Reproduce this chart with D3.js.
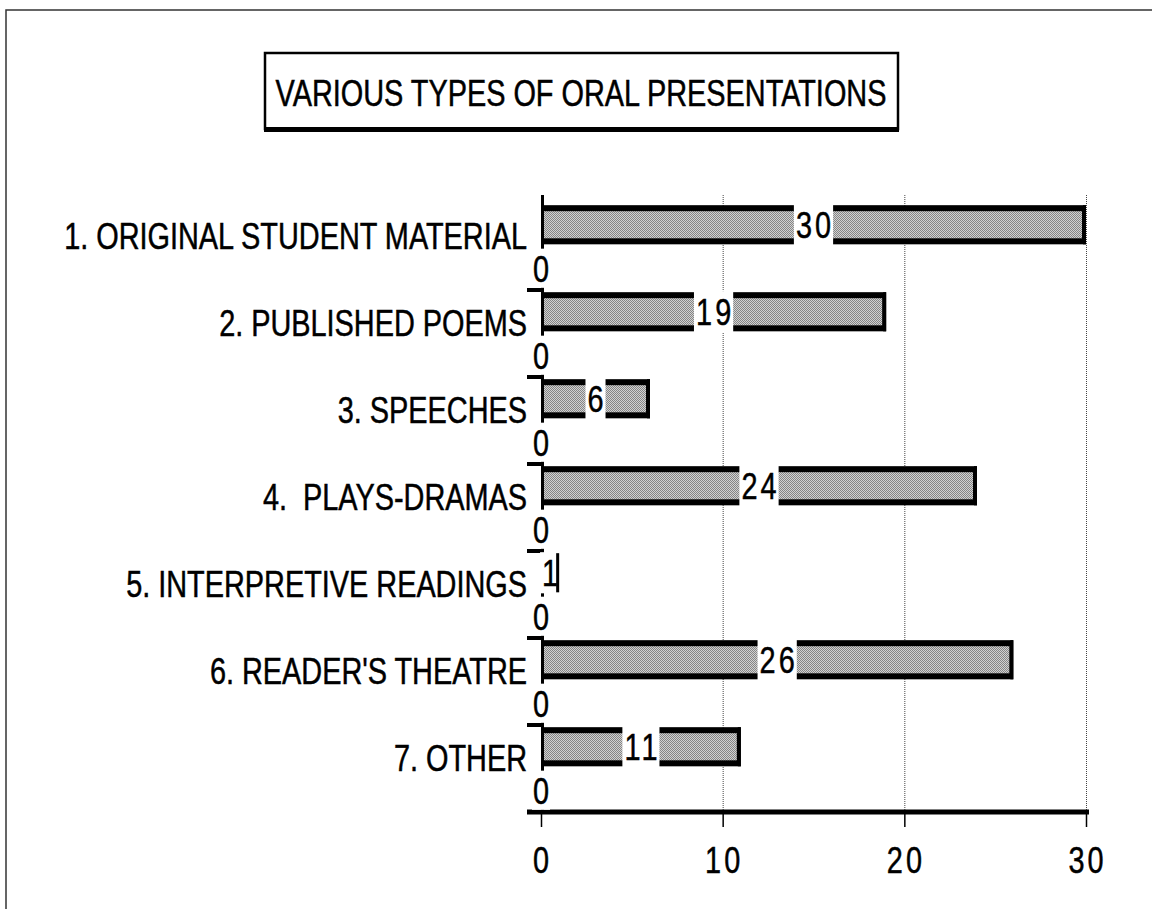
<!DOCTYPE html>
<html>
<head>
<meta charset="utf-8">
<script src="https://cdn.jsdelivr.net/npm/d3@7"></script>
<style>
  html, body { margin: 0; padding: 0; background: #fff; }
  text { white-space: pre; }
</style>
</head>
<body>
<div id="chart"></div>
<script>
// data
const categories = ["1. ORIGINAL STUDENT MATERIAL", "2. PUBLISHED POEMS", "3. SPEECHES",
    "4.  PLAYS-DRAMAS", "5. INTERPRETIVE READINGS", "6. READER'S THEATRE", "7. OTHER"];
const counts = [30, 19, 6, 24, 1, 26, 11];
const zeros = [0, 0, 0, 0, 0, 0, 0];
const xTicks = [0, 10, 20, 30];
const title = "VARIOUS TYPES OF ORAL PRESENTATIONS";

const width = 1152, height = 909;
const font = "'Liberation Sans', Arial, sans-serif";
const fontSize = 37;
const sx = 0.78; // squeeze to look like condensed Helvetica
const numSpacing = 4; // the old print spaces its digits apart

const svg = d3.select("#chart").append("svg")
    .attr("width", width)
    .attr("height", height);

const defs = svg.append("defs");
const pat = defs.append("pattern")
    .attr("id", "halftone")
    .attr("width", 2).attr("height", 2)
    .attr("patternUnits", "userSpaceOnUse");
pat.append("rect").attr("width", 2).attr("height", 2).attr("fill", "#d2d2d2");
pat.append("rect").attr("x", 0).attr("y", 0).attr("width", 1).attr("height", 1).attr("fill", "#858585");
pat.append("rect").attr("x", 1).attr("y", 1).attr("width", 1).attr("height", 1).attr("fill", "#858585");

function addText(sel, x, y, str, anchor, spacing) {
    spacing = spacing || 0;
    // letter-spacing leaves a trailing gap, so shift back by half of it
    const shift = anchor === "middle" ? spacing * sx / 2 : 0;
    return sel.append("text")
        .attr("transform", "translate(" + (x + shift) + "," + y + ") scale(" + sx + ",1)")
        .attr("text-anchor", anchor)
        .style("font-family", font)
        .style("font-size", fontSize + "px")
        .style("letter-spacing", spacing + "px")
        .attr("fill", "#000")
        .attr("stroke", "#000")
        .attr("stroke-width", 0.5)
        .text(str);
}

// page frame
svg.append("rect")
    .attr("x", 6).attr("y", 10)
    .attr("width", width + 20).attr("height", height + 20)
    .attr("fill", "none")
    .attr("stroke", "#333")
    .attr("stroke-width", 1.5);

// title box
svg.append("rect")
    .attr("x", 265).attr("y", 53)
    .attr("width", 633).attr("height", 76)
    .attr("fill", "#fff")
    .attr("stroke", "#000")
    .attr("stroke-width", 2.5);
svg.append("line")
    .attr("x1", 264).attr("x2", 899)
    .attr("y1", 129.5).attr("y2", 129.5)
    .attr("stroke", "#000")
    .attr("stroke-width", 5);
addText(svg, 581, 106, title, "middle");

const x = d3.scaleLinear().domain([0, 30]).range([541, 1086]);
const y = d3.scaleBand().domain(categories).range([203, 812]);
const sub = d3.scaleBand().domain(["count", "zero"])
    .range([0, y.bandwidth()])
    .paddingInner(0.1)
    .paddingOuter(0.05);
const bh = sub.bandwidth();

// gridlines
svg.append("g").selectAll("line")
    .data(xTicks.filter(d => d > 0))
    .join("line")
    .attr("x1", d => x(d) + 0.5).attr("x2", d => x(d) + 0.5)
    .attr("y1", 195).attr("y2", 812)
    .attr("stroke", "#444")
    .attr("stroke-width", 1)
    .attr("stroke-dasharray", "1,1");

// y axis line and band ticks
svg.append("line")
    .attr("x1", x(0) + 1.5).attr("x2", x(0) + 1.5)
    .attr("y1", 195).attr("y2", 812)
    .attr("stroke", "#000")
    .attr("stroke-width", 3);
svg.append("g").selectAll("line")
    .data(categories)
    .join("line")
    .attr("x1", 527).attr("x2", x(0) + 3)
    .attr("y1", d => y(d) + y.bandwidth()).attr("y2", d => y(d) + y.bandwidth())
    .attr("stroke", "#000")
    .attr("stroke-width", 4);

// x axis
svg.append("line")
    .attr("x1", 527).attr("x2", x(30) + 3)
    .attr("y1", 812).attr("y2", 812)
    .attr("stroke", "#000")
    .attr("stroke-width", 5);
svg.append("g").selectAll("line")
    .data(xTicks)
    .join("line")
    .attr("x1", d => x(d) + 0.5).attr("x2", d => x(d) + 0.5)
    .attr("y1", 812).attr("y2", 827)
    .attr("stroke", "#000")
    .attr("stroke-width", 1.5);
xTicks.forEach(t => addText(svg, x(t), 873, String(t), "middle", numSpacing));

// bars
const rows = categories.map((c, i) => ({ cat: c, v: counts[i], z: zeros[i] }));
const gBars = svg.append("g");
rows.forEach(r => {
    const top = y(r.cat) + sub("count");
    gBars.append("rect")
        .attr("x", x(0)).attr("y", top)
        .attr("width", x(r.v) - x(0)).attr("height", bh)
        .attr("fill", "#000");
    gBars.append("rect")
        .attr("x", x(0) + 3).attr("y", top + 6)
        .attr("width", Math.max(0, x(r.v) - x(0) - 7)).attr("height", bh - 12)
        .attr("fill", "url(#halftone)");
});

// value labels sit on white boxes in the middle of each bar
rows.forEach(r => {
    const top = y(r.cat) + sub("count");
    const cx = (x(0) + x(r.v)) / 2;
    const bg = svg.append("rect").attr("fill", "#fff");
    const t = addText(svg, cx, top + bh / 2 + 13.5, String(r.v), "middle", numSpacing);
    const w = (t.node().getComputedTextLength() - numSpacing) * sx + 4;
    bg.attr("x", cx - w / 2).attr("y", top - 1)
        .attr("width", w).attr("height", bh + 2);
    // right edge of the bar stays on top
    svg.append("rect")
        .attr("x", x(r.v) - 3).attr("y", top)
        .attr("width", 3).attr("height", bh)
        .attr("fill", "#000");
});

// second series: zero values, label only
rows.forEach(r => {
    const top = y(r.cat) + sub("zero");
    const bg = svg.append("rect").attr("fill", "#fff");
    const t = addText(svg, x(r.z), top + bh / 2 + 13.5, String(r.z), "middle");
    const w = t.node().getComputedTextLength() * sx + 2;
    bg.attr("x", x(r.z) - w / 2).attr("y", top)
        .attr("width", w).attr("height", bh);
});

// category labels
categories.forEach(c => addText(svg, 527, y(c) + y.bandwidth() / 2 + 2.5, c, "end"));
</script>
</body>
</html>
